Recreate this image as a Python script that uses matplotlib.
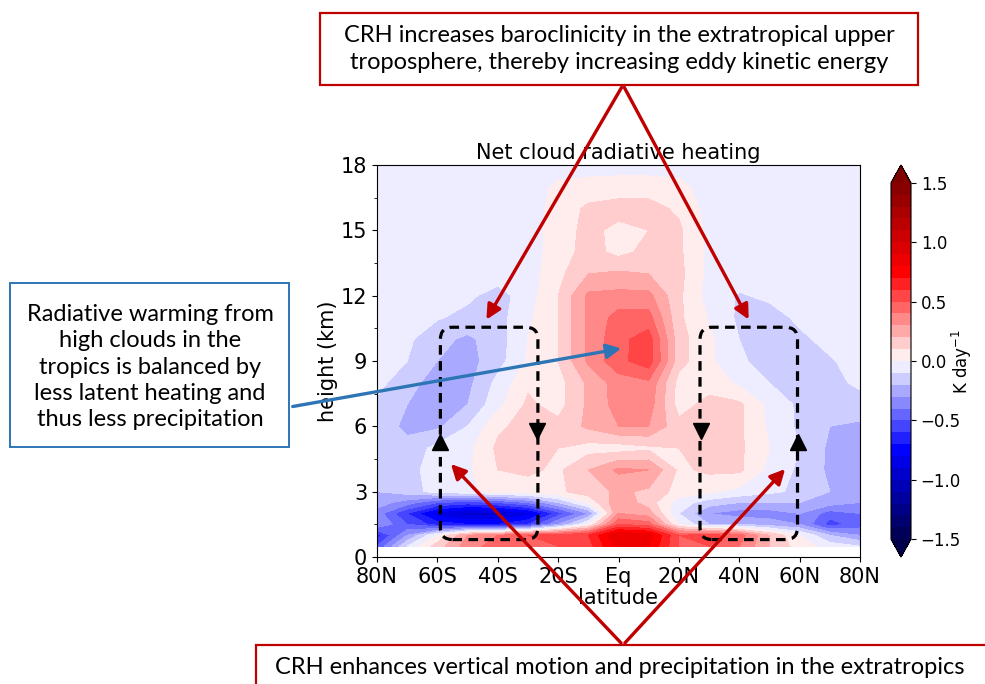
import numpy as np
import matplotlib
matplotlib.use("Agg")
import matplotlib.pyplot as plt
from matplotlib.patches import FancyBboxPatch, FancyArrowPatch, Rectangle

# grid of the field (latitude, height in km)
lats = [-80, -70, -60, -50, -40, -30, -20, -10, 0, 10, 20, 30, 40, 50, 60, 70, 80]
heights = [0.5, 1, 1.5, 2, 2.5, 3, 4, 5, 6, 7, 8, 9, 10, 11, 12, 13, 14, 15, 16, 17, 18]

# net cloud radiative heating (K/day), one row per height
net_crh = [
    [-0.50, -0.10, 0.15, 0.35, 0.45, 0.50, 0.50, 0.55, 0.85, 0.80, 0.50, 0.50, 0.40, 0.20, 0.05, -0.05, -0.10],  # 0.5
    [-0.65, -0.30, 0.00, 0.30, 0.40, 0.50, 0.55, 0.60, 0.90, 0.85, 0.50, 0.55, 0.45, 0.20, 0.00, -0.20, -0.30],  # 1
    [-0.30, -0.50, -0.65, -0.70, -0.70, -0.60, -0.30, 0.00, 0.50, 0.45, 0.00, -0.20, -0.20, -0.25, -0.30, -0.55, -0.45],  # 1.5
    [-0.35, -0.60, -0.85, -0.95, -0.95, -0.85, -0.55, -0.30, 0.30, 0.25, -0.10, -0.30, -0.35, -0.35, -0.30, -0.45, -0.40],  # 2
    [-0.25, -0.35, -0.50, -0.55, -0.50, -0.40, -0.20, 0.02, 0.28, 0.15, -0.05, -0.15, -0.20, -0.20, -0.20, -0.25, -0.30],  # 2.5
    [-0.20, -0.15, -0.06, -0.03, 0.05, 0.05, 0.08, 0.15, 0.22, 0.18, 0.06, 0.02, -0.03, -0.08, -0.12, -0.20, -0.25],  # 3
    [-0.15, -0.13, -0.06, -0.02, 0.10, 0.12, 0.08, 0.20, 0.32, 0.30, 0.08, 0.12, 0.12, -0.03, -0.12, -0.22, -0.20],  # 4
    [-0.15, -0.16, -0.07, -0.03, 0.12, 0.15, 0.10, 0.06, 0.05, 0.08, 0.10, 0.14, 0.12, 0.00, -0.10, -0.22, -0.25],  # 5
    [-0.13, -0.23, -0.22, -0.10, 0.08, 0.14, 0.13, 0.22, 0.30, 0.30, 0.13, 0.14, 0.12, -0.02, -0.12, -0.20, -0.22],  # 6
    [-0.12, -0.20, -0.25, -0.20, -0.03, 0.12, 0.06, 0.22, 0.34, 0.35, 0.06, 0.13, 0.12, -0.03, -0.12, -0.16, -0.14],  # 7
    [-0.07, -0.16, -0.25, -0.23, -0.07, 0.08, 0.06, 0.22, 0.35, 0.38, 0.06, 0.06, -0.02, -0.10, -0.15, -0.13, -0.08],  # 8
    [-0.05, -0.10, -0.20, -0.24, -0.14, 0.01, 0.10, 0.32, 0.47, 0.56, 0.14, 0.02, -0.08, -0.15, -0.15, -0.11, -0.06],  # 9
    [-0.05, -0.08, -0.17, -0.22, -0.15, 0.00, 0.10, 0.32, 0.47, 0.55, 0.14, 0.02, -0.10, -0.15, -0.12, -0.07, -0.05],  # 10
    [-0.05, -0.06, -0.09, -0.13, -0.14, -0.02, 0.10, 0.32, 0.44, 0.44, 0.12, -0.01, -0.12, -0.14, -0.08, -0.05, -0.05],  # 11
    [-0.05, -0.05, -0.05, -0.08, -0.14, -0.05, 0.10, 0.32, 0.33, 0.33, 0.12, -0.04, -0.11, -0.08, -0.05, -0.05, -0.05],  # 12
    [-0.05, -0.05, -0.05, -0.05, -0.05, -0.05, 0.07, 0.20, 0.22, 0.20, 0.13, -0.03, -0.05, -0.05, -0.05, -0.05, -0.05],  # 13
    [-0.05, -0.05, -0.05, -0.05, -0.05, -0.05, 0.05, 0.14, 0.07, 0.13, 0.12, -0.03, -0.05, -0.05, -0.05, -0.05, -0.05],  # 14
    [-0.05, -0.05, -0.05, -0.05, -0.05, -0.05, 0.05, 0.13, 0.07, 0.10, 0.12, -0.03, -0.05, -0.05, -0.05, -0.05, -0.05],  # 15
    [-0.05, -0.05, -0.05, -0.05, -0.05, -0.05, 0.04, 0.12, 0.14, 0.14, 0.08, -0.04, -0.05, -0.05, -0.05, -0.05, -0.05],  # 16
    [-0.05, -0.05, -0.05, -0.05, -0.05, -0.05, 0.02, 0.04, 0.05, 0.05, 0.03, -0.05, -0.05, -0.05, -0.05, -0.05, -0.05],  # 17
    [-0.05, -0.05, -0.05, -0.05, -0.05, -0.05, -0.05, -0.05, -0.05, -0.05, -0.05, -0.05, -0.05, -0.05, -0.05, -0.05, -0.05],  # 18
]

lat_ticks = [-80, -60, -40, -20, 0, 20, 40, 60, 80]
lat_labels = ['80N', '60S', '40S', '20S', 'Eq', '20N', '40N', '60N', '80N']
height_ticks = [0, 3, 6, 9, 12, 15, 18]
cbar_ticks = [-1.5, -1.0, -0.5, 0.0, 0.5, 1.0, 1.5]
levels = np.linspace(-1.5, 1.5, 31)

top_note = "CRH increases baroclinicity in the extratropical upper\ntroposphere, thereby increasing eddy kinetic energy"
left_note = "Radiative warming from\nhigh clouds in the\ntropics is balanced by\nless latent heating and\nthus less precipitation"
bottom_note = "CRH enhances vertical motion and precipitation in the extratropics"

W, H = 985, 684
RED = '#C00000'
BLUE = '#2E75B6'


def fx(px):
    return px / W


def fy(py):
    return 1 - py / H


fig = plt.figure(figsize=(W / 100, H / 100), dpi=100)
ax = fig.add_axes([fx(377), fy(557), fx(860) - fx(377), fy(165) - fy(557)])
cax = fig.add_axes([fx(891), fy(557), fx(911) - fx(891), fy(165) - fy(557)])

cf = ax.contourf(lats, heights, net_crh, levels=levels, cmap='seismic', extend='both')
ax.set_xlim(-80, 80)
ax.set_ylim(0, 18)
ax.set_xticks(lat_ticks)
ax.set_xticklabels(lat_labels)
ax.set_yticks(height_ticks)
ax.set_yticks(np.arange(1.5, 18, 3), minor=True)
ax.tick_params(labelsize=15)
ax.set_xlabel('latitude', fontsize=15, labelpad=1)
ax.set_ylabel('height (km)', fontsize=15, labelpad=2)
ax.set_title('Net cloud radiative heating', fontsize=15, pad=4)

cb = fig.colorbar(cf, cax=cax, ticks=cbar_ticks)
cb.ax.tick_params(labelsize=12)
cb.set_label('K day$^{-1}$', fontsize=12, labelpad=-8)

# dashed circulation cells
for x0 in (-59, 27):
    cell = FancyBboxPatch((x0, 0.8), 32.3, 9.75, boxstyle='round,pad=0,rounding_size=4',
                          mutation_aspect=0.14, fill=False, ec='k', lw=2.3,
                          ls=(0, (3, 2)), zorder=3)
    ax.add_patch(cell)
ax.plot([-59, 59.3], [5.3, 5.3], ls='none', marker='^', ms=12, color='k', zorder=4)
ax.plot([-27.0, 27.3], [5.8, 5.8], ls='none', marker='v', ms=12, color='k', zorder=4)


def note_box(x0, y0, x1, y1, color, lw):
    fig.add_artist(Rectangle((fx(x0), fy(y1)), fx(x1) - fx(x0), fy(y0) - fy(y1),
                             transform=fig.transFigure, fc='white', ec=color, lw=lw, zorder=5))


def arrow(p0, p1, color):
    fig.add_artist(FancyArrowPatch((fx(p0[0]), fy(p0[1])), (fx(p1[0]), fy(p1[1])),
                                   transform=fig.transFigure, arrowstyle='-|>',
                                   mutation_scale=22, lw=2.4, color=color, zorder=6))


note_box(320, 13, 918, 85, RED, 1.6)
fig.text(fx(619), fy(49), top_note, ha='center', va='center', fontsize=17,
         family='Lato', linespacing=1.3, zorder=7)

note_box(10, 283, 289, 447, BLUE, 1.4)
fig.text(fx(150), fy(367), left_note, ha='center', va='center', fontsize=17,
         family='Lato', linespacing=1.3, zorder=7)

note_box(256, 645, 995, 700, RED, 1.6)
fig.text(fx(275), fy(667), bottom_note, ha='left', va='center', fontsize=17,
         family='Lato', zorder=7)

arrow((623, 85), (485, 322), RED)
arrow((623, 85), (750, 322), RED)
arrow((623, 645), (449, 462), RED)
arrow((623, 645), (787, 467), RED)
arrow((290, 407), (624, 348), BLUE)

fig.savefig('out.png', dpi=100)
